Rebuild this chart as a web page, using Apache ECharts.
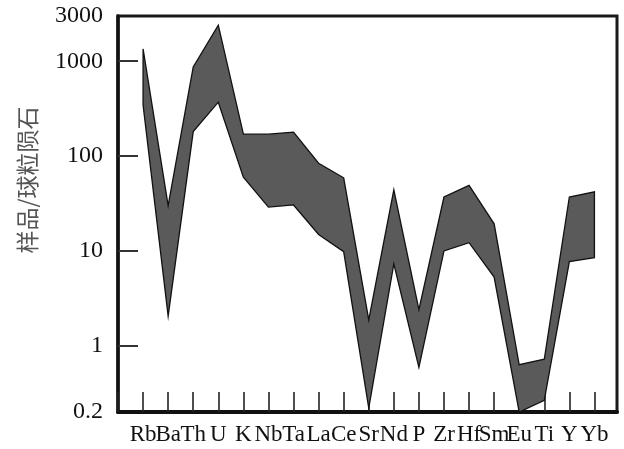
<!DOCTYPE html>
<html>
<head>
<meta charset="utf-8">
<script src="https://cdn.jsdelivr.net/npm/echarts@6/dist/echarts.min.js"></script>
<style>
  html, body { margin: 0; padding: 0; background: #fff; }
  #chart { width: 624px; height: 449px; }
</style>
</head>
<body>
<div id="chart"></div>
<script>
// Trace elements, chondrite-normalized order
const elements = ['Rb', 'Ba', 'Th', 'U', 'K', 'Nb', 'Ta', 'La', 'Ce', 'Sr',
                  'Nd', 'P', 'Zr', 'Hf', 'Sm', 'Eu', 'Ti', 'Y', 'Yb'];

// Upper and lower envelope of the sample field (sample / chondrite)
const upperEnvelope = [1350, 30, 870, 2400, 170, 170, 179, 84, 59, 1.87,
                       44, 2.4, 37, 49, 19.3, 0.63, 0.72, 37, 42];
const lowerEnvelope = [345, 2.05, 181, 370, 60, 29, 30.5, 14.9, 9.8, 0.22,
                       7.3, 0.59, 10, 12.2, 5.3, 0.2, 0.265, 7.7, 8.5];

// Y axis labels and tick marks
const yLabelValues = [0.2, 1, 10, 100, 1000, 3000];
const yTickValues = [1, 10, 100, 1000];

// Elements sit at positions 1..19 on the x axis
const elementPos = elements.map((_, i) => i + 1);
// position 0 is the left frame edge; it carries an empty label
const xMarks = [0].concat(elementPos);
const serif = '"Liberation Serif", "Times New Roman", serif';

const chart = echarts.init(document.getElementById('chart'), null, { renderer: 'canvas' });

chart.setOption({
  animation: false,
  backgroundColor: '#ffffff',
  grid: {
    left: 118, right: 7, top: 16, bottom: 37,
    show: true,
    borderColor: '#1a1a1a',
    borderWidth: 3,
    backgroundColor: 'transparent'
  },
  graphic: [{
    type: 'text',
    x: 27,
    y: 180,
    rotation: Math.PI / 2,
    style: {
      text: '样品/球粒陨石',
      font: '23px "Noto Sans CJK SC", sans-serif',
      fill: '#555',
      align: 'center',
      verticalAlign: 'middle'
    }
  }],
  xAxis: {
    type: 'value',
    min: 0,
    max: 19.9,
    axisLine: { show: true, onZero: false, lineStyle: { color: '#111', width: 4 } },
    axisTick: {
      show: true, inside: true, length: 20,
      customValues: xMarks,
      lineStyle: { color: '#222', width: 1.6 }
    },
    axisLabel: {
      customValues: xMarks,
      showMinLabel: true,
      formatter: v => elements[Math.round(v) - 1] || '',
      fontFamily: serif,
      fontSize: 23,
      color: '#111',
      margin: 11
    },
    splitLine: { show: false }
  },
  yAxis: {
    type: 'log',
    logBase: 10,
    min: 0.2,
    max: 3000,
    axisLine: { show: true, onZero: false, lineStyle: { color: '#111', width: 3.5 } },
    axisTick: {
      show: true, inside: true, length: 20,
      customValues: yTickValues,
      lineStyle: { color: '#333', width: 2 }
    },
    axisLabel: {
      customValues: yLabelValues,
      formatter: v => String(v),
      fontFamily: serif,
      fontSize: 24,
      color: '#111',
      margin: 15
    },
    splitLine: { show: false }
  },
  series: [{
    // Shaded field between the two envelopes, closed at both ends
    type: 'custom',
    coordinateSystem: 'cartesian2d',
    data: [[1, upperEnvelope[0]]],
    renderItem: function (params, api) {
      const top = upperEnvelope.map((v, i) => api.coord([elementPos[i], v]));
      const bottom = lowerEnvelope.map((v, i) => api.coord([elementPos[i], v])).reverse();
      return {
        type: 'polygon',
        shape: { points: top.concat(bottom) },
        style: { fill: '#5a5a5a', stroke: '#111', lineWidth: 1.3 }
      };
    },
    clip: false,
    silent: true
  }]
});
</script>
</body>
</html>
